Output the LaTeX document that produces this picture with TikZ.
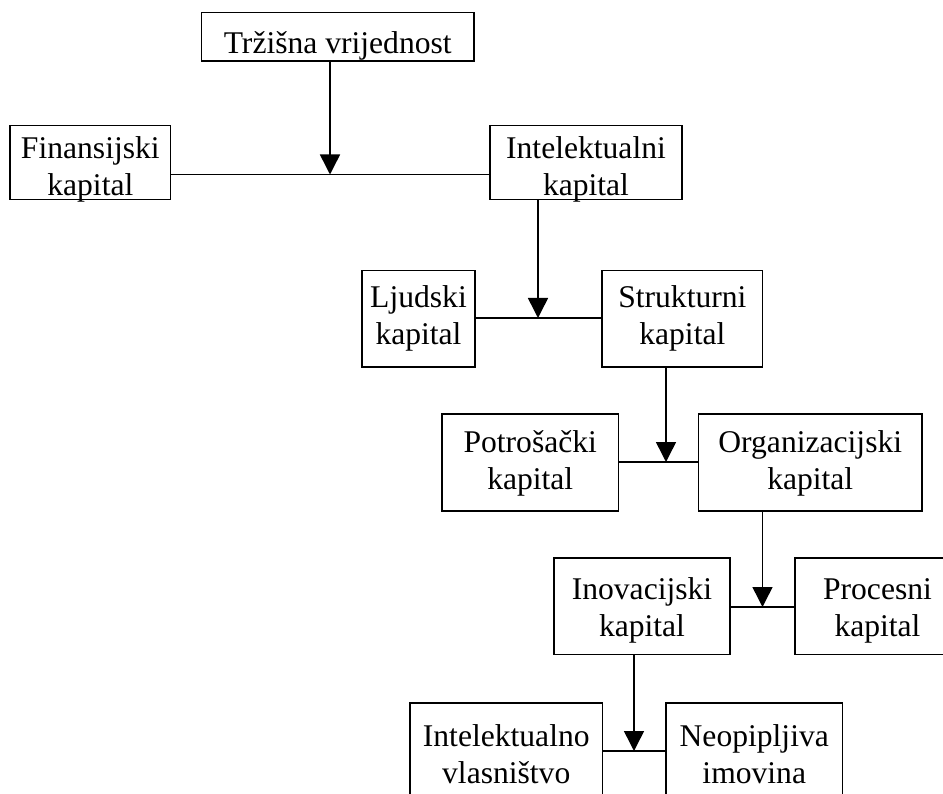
\documentclass[tikz,border=0pt]{standalone}
\usepackage{fontspec}
\setmainfont{Liberation Serif}
\usetikzlibrary{arrows.meta}
\newcommand{\bxtext}[2]{\raisebox{-#1}[\height][\depth]{\begin{tabular}{@{}c@{}}#2\end{tabular}}}
\begin{document}
\begin{tikzpicture}[x=1pt,y=-1pt,
  box/.style={draw,line width=1.5pt,inner sep=0pt,font=\fontsize{31.6}{37}\selectfont},
  link/.style={line width=1.5pt},
  arr/.style={line width=1.5pt,-{Triangle[width=20pt,length=20pt]}}]
\useasboundingbox (0,0) rectangle (943,794);
\node[box,minimum width=272.5pt,minimum height=48.3pt] (trz) at (337.75,36.85) {\bxtext{9pt}{Tržišna vrijednost}};
\node[box,minimum width=160.7pt,minimum height=73pt] (fin) at (90.35,162.5) {\bxtext{7.5pt}{Finansijski\\kapital}};
\node[box,minimum width=192pt,minimum height=73pt] (int) at (586,162.5) {\bxtext{7.5pt}{Intelektualni\\kapital}};
\node[box,minimum width=113pt,minimum height=96.5pt] (ljud) at (418.5,318.75) {\bxtext{0pt}{Ljudski\\kapital}};
\node[box,minimum width=160.7pt,minimum height=96.5pt] (str) at (682.35,318.75) {\bxtext{0pt}{Strukturni\\kapital}};
\node[box,minimum width=176.5pt,minimum height=97pt] (pot) at (530.25,462.5) {\bxtext{1pt}{Potrošački\\kapital}};
\node[box,minimum width=223.5pt,minimum height=97pt] (org) at (810.25,462.5) {\bxtext{1pt}{Organizacijski\\kapital}};
\node[box,minimum width=176pt,minimum height=96.5pt] (ino) at (642,606.25) {\bxtext{4pt}{Inovacijski\\kapital}};
\node[box,minimum width=165pt,minimum height=96.5pt] (pro) at (877.5,606.25) {\bxtext{4pt}{Procesni\\kapital}};
\node[box,minimum width=192.5pt,minimum height=97pt] (ivl) at (506.25,751.5) {\bxtext{6.5pt}{Intelektualno\\vlasništvo}};
\node[box,minimum width=176.5pt,minimum height=97pt] (neo) at (754.25,751.5) {\bxtext{6.5pt}{Neopipljiva\\imovina}};
\coordinate (j1) at (330,174.5);
\coordinate (j2) at (538,318);
\coordinate (j3) at (666,462);
\coordinate (j4) at (762.5,607);
\coordinate (j5) at (634,751);
\draw[link] (fin.east |- j1) -- (int.west |- j1);
\draw[arr] (trz.south -| j1) -- (j1);
\draw[link] (ljud.east |- j2) -- (str.west |- j2);
\draw[arr] (int.south -| j2) -- (j2);
\draw[link] (pot.east |- j3) -- (org.west |- j3);
\draw[arr] (str.south -| j3) -- (j3);
\draw[link] (ino.east |- j4) -- (pro.west |- j4);
\draw[arr] (org.south -| j4) -- (j4);
\draw[link] (ivl.east |- j5) -- (neo.west |- j5);
\draw[arr] (ino.south -| j5) -- (j5);
\end{tikzpicture}
\end{document}
